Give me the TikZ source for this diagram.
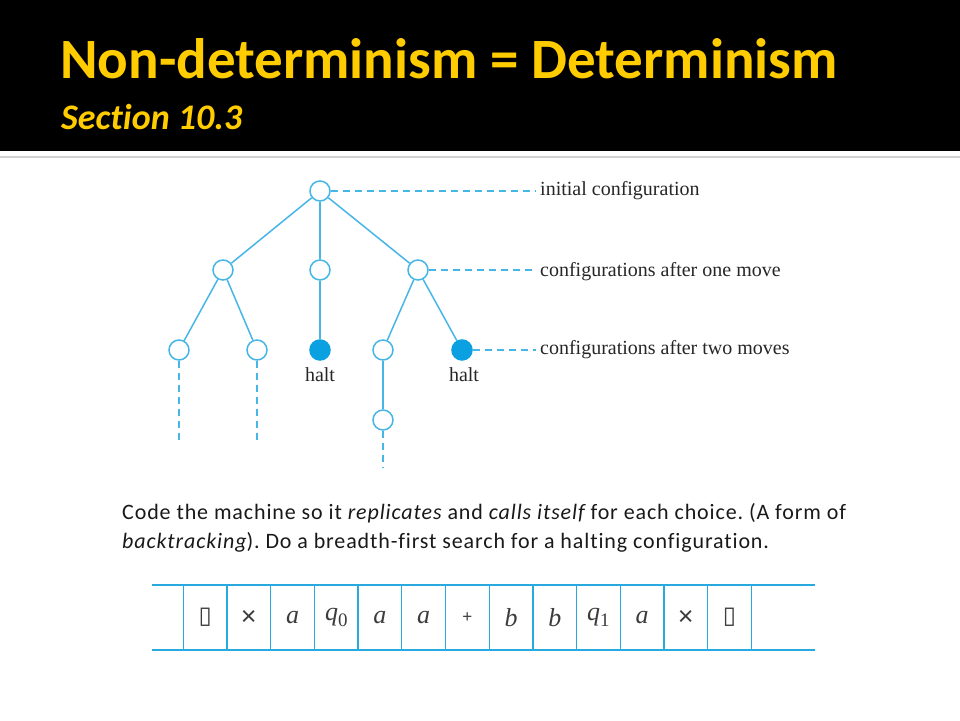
\documentclass[tikz,border=0pt]{standalone}
\usepackage{fontspec}
\setmainfont[Ligatures=NoCommon]{Carlito}
\newfontfamily\bodyfont[LetterSpace=4,Ligatures=NoCommon]{Carlito}
\newfontfamily\treefont{Liberation Serif}
\newfontfamily\symfont{DejaVu Sans}
\newfontfamily\lsans{Liberation Sans}
\definecolor{gold}{RGB}{255,204,0}
\definecolor{treeblue}{RGB}{70,182,230}
\definecolor{haltblue}{RGB}{10,160,225}
\definecolor{tapeblue}{RGB}{40,170,225}
\definecolor{tapeink}{RGB}{60,60,60}
\definecolor{bodyink}{RGB}{25,25,25}
\tikzset{
  cfg/.style={circle, draw=treeblue, fill=white, line width=1.5pt, minimum size=20pt, inner sep=0pt},
  haltnode/.style={cfg, fill=haltblue, draw=haltblue},
  edge/.style={draw=treeblue, line width=1.5pt},
  dashedge/.style={draw=treeblue, line width=1.4pt, dash pattern=on 7.5pt off 4.5pt},
  cfglabel/.style={anchor=base west, inner sep=0pt, text=black!85, font=\treefont\fontsize{20}{22}\selectfont},
  haltlabel/.style={anchor=base, inner sep=0pt, text=black!85, font=\treefont\fontsize{20}{22}\selectfont},
  cell/.style={draw=tapeblue, line width=1.3pt, minimum width=43.7pt, minimum height=65pt, inner sep=0pt, text=tapeink, font=\treefont\fontsize{26}{28}\selectfont},
  tapeline/.style={draw=tapeblue, line width=1.5pt},
  bodytext/.style={anchor=base west, inner sep=0pt, text=bodyink, font=\bodyfont\fontsize{22}{26}\selectfont}
}
\newcommand{\blanksym}{{\symfont\fontsize{24}{26}\selectfont ▯}}
\newcommand{\timessym}{{\lsans\fontsize{27}{28}\selectfont ×}}
\newcommand{\plussym}{{\lsans\fontsize{17}{18}\selectfont +}}
\newcommand{\qsub}[1]{{\itshape q\raisebox{-6pt}{\upshape\fontsize{19}{20}\selectfont #1}}}
\begin{document}
\frenchspacing
\begin{tikzpicture}[x=1pt,y=-1pt]
\useasboundingbox (0,0) rectangle (960,720);
% title band
\fill[black] (0,0) rectangle (960,151);
\fill[black!18] (0,155.5) rectangle (960,158);
\node[anchor=base west, inner sep=0pt, text=gold, font=\bfseries\fontsize{57}{60}\selectfont] (title) at (60,78) {Non-determinism = Determinism};
\node[anchor=base west, inner sep=0pt, text=gold, font=\bfseries\itshape\fontsize{36}{40}\selectfont] (subtitle) at (61,129) {Section 10.3};
% tree
\node[cfg] (r) at (320,191) {};
\node[cfg] (a) at (223,270) {};
\node[cfg] (b) at (320,270) {};
\node[cfg] (c) at (418,270) {};
\node[cfg] (aa) at (179,350) {};
\node[cfg] (ab) at (257,350) {};
\node[haltnode] (ba) at (320,350) {};
\node[cfg] (ca) at (383,350) {};
\node[haltnode] (cb) at (462,350) {};
\node[cfg] (caa) at (383,420) {};
\draw[edge] (r) -- (a);
\draw[edge] (r) -- (b);
\draw[edge] (r) -- (c);
\draw[edge] (a) -- (aa);
\draw[edge] (a) -- (ab);
\draw[edge] (b) -- (ba);
\draw[edge] (c) -- (ca);
\draw[edge] (c) -- (cb);
\draw[edge] (ca) -- (caa);
\coordinate (aaend) at (179,440);
\coordinate (abend) at (257,440);
\coordinate (caaend) at (383,468);
\draw[dashedge] (aa.south) -- (aaend);
\draw[dashedge] (ab.south) -- (abend);
\draw[dashedge] (caa.south) -- (caaend);
\coordinate (l0) at (536,191);
\coordinate (l1) at (536,270);
\coordinate (l2) at (536,350);
\draw[dashedge] (r.east) -- (l0);
\draw[dashedge] (c.east) -- (l1);
\draw[dashedge] (cb.east) -- (l2);
\node[cfglabel] (t0) at (540,195) {initial configuration};
\node[cfglabel] (t1) at (540,276) {configurations after one move};
\node[cfglabel] (t2) at (540,354) {configurations after two moves};
\node[haltlabel] (h1) at (320,381) {halt};
\node[haltlabel] (h2) at (464,381) {halt};
% body text
\node[bodytext] (p1) at (122,519) {Code the machine so it {\itshape replicates} and {\itshape calls itself} for each choice. (A form of};
\node[bodytext] (p2) at (122,548) {{\itshape backtracking}). Do a breadth-first search for a halting configuration.};
% tape
\coordinate (tl) at (152,585);
\coordinate (tr) at (815,585);
\coordinate (bl) at (152,650);
\coordinate (br) at (815,650);
\draw[tapeline] (tl) -- (tr);
\draw[tapeline] (bl) -- (br);
\foreach \s [count=\i from 0] in {{\blanksym},{\timessym},{\itshape a},{\qsub{0}},{\itshape a},{\itshape a},{\plussym},{\itshape b},{\itshape b},{\qsub{1}},{\itshape a},{\timessym},{\blanksym}}
  \node[cell] (cell\i) at ({183.3+43.7*(\i+0.5)},617.5) {\s};
\end{tikzpicture}
\end{document}
